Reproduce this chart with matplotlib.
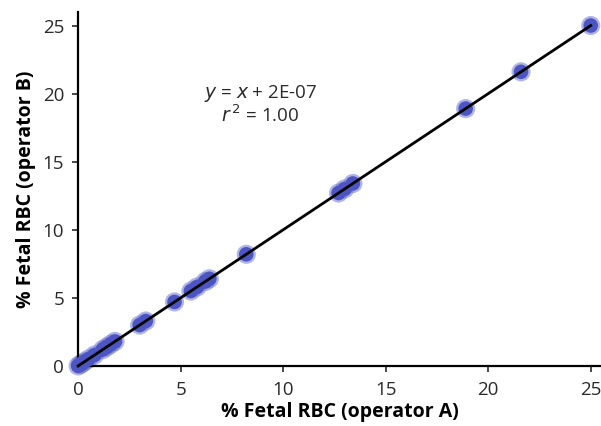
import matplotlib

matplotlib.use("Agg")
import matplotlib.pyplot as plt

# % fetal RBC read by the two operators
operator_a = [0.0, 0.1, 0.2, 0.3, 0.5, 0.8, 1.2, 1.4, 1.6, 1.8, 3.0, 3.3,
              4.7, 5.5, 5.8, 6.2, 6.4, 8.2, 12.7, 13.0, 13.4, 18.9, 21.6, 25.0]
operator_b = [0.0, 0.1, 0.2, 0.3, 0.5, 0.8, 1.2, 1.4, 1.6, 1.8, 3.0, 3.3,
              4.7, 5.5, 5.8, 6.2, 6.4, 8.2, 12.7, 13.0, 13.4, 18.9, 21.6, 25.0]
fit_x = [0.0, 25.0]
fit_slope = 1.0
fit_intercept = 2e-07
ticks = [0, 5, 10, 15, 20, 25]

plt.rcParams["font.family"] = ["Open Sans", "DejaVu Sans"]

fig = plt.figure(figsize=(6.01, 4.26), dpi=100)
ax = fig.add_axes([0.13, 0.141, 0.87, 0.831])

# soft halo + solid core for the blurred-looking markers
ax.scatter(operator_a, operator_b, s=190, color="#7078d4", alpha=0.55,
           edgecolors="none", clip_on=False, zorder=2)
ax.scatter(operator_a, operator_b, s=110, color="#4c55c2",
           edgecolors="none", clip_on=False, zorder=3)

fit_y = [fit_slope * v + fit_intercept for v in fit_x]
ax.plot(fit_x, fit_y, color="black", lw=2, zorder=4, clip_on=False)

ax.set_xlim(0, 25.5)
ax.set_ylim(0, 26)
ax.set_xticks(ticks)
ax.set_yticks(ticks)
ax.tick_params(direction="out", length=4, width=1.2, labelsize=13.5,
               colors="#2a2a2a")
ax.tick_params(axis="y", pad=6)
ax.tick_params(axis="x", pad=7)
for side in ["top", "right"]:
    ax.spines[side].set_visible(False)
for side in ["left", "bottom"]:
    ax.spines[side].set_linewidth(1.6)

ax.set_xlabel("% Fetal RBC (operator A)", fontsize=14, fontweight="bold",
              labelpad=2)
ax.set_ylabel("% Fetal RBC (operator B)", fontsize=14, fontweight="bold",
              labelpad=5)

ax.text(8.9, 20.0, r"$\it{y}$ = $\it{x}$ + 2E-07", ha="center",
        va="center", fontsize=13.5, color="#2a2a2a")
ax.text(8.9, 18.4, r"$\it{r}^{\,2}$ = 1.00", ha="center", va="center",
        fontsize=13.5, color="#2a2a2a")

fig.savefig("out.png", dpi=100)
